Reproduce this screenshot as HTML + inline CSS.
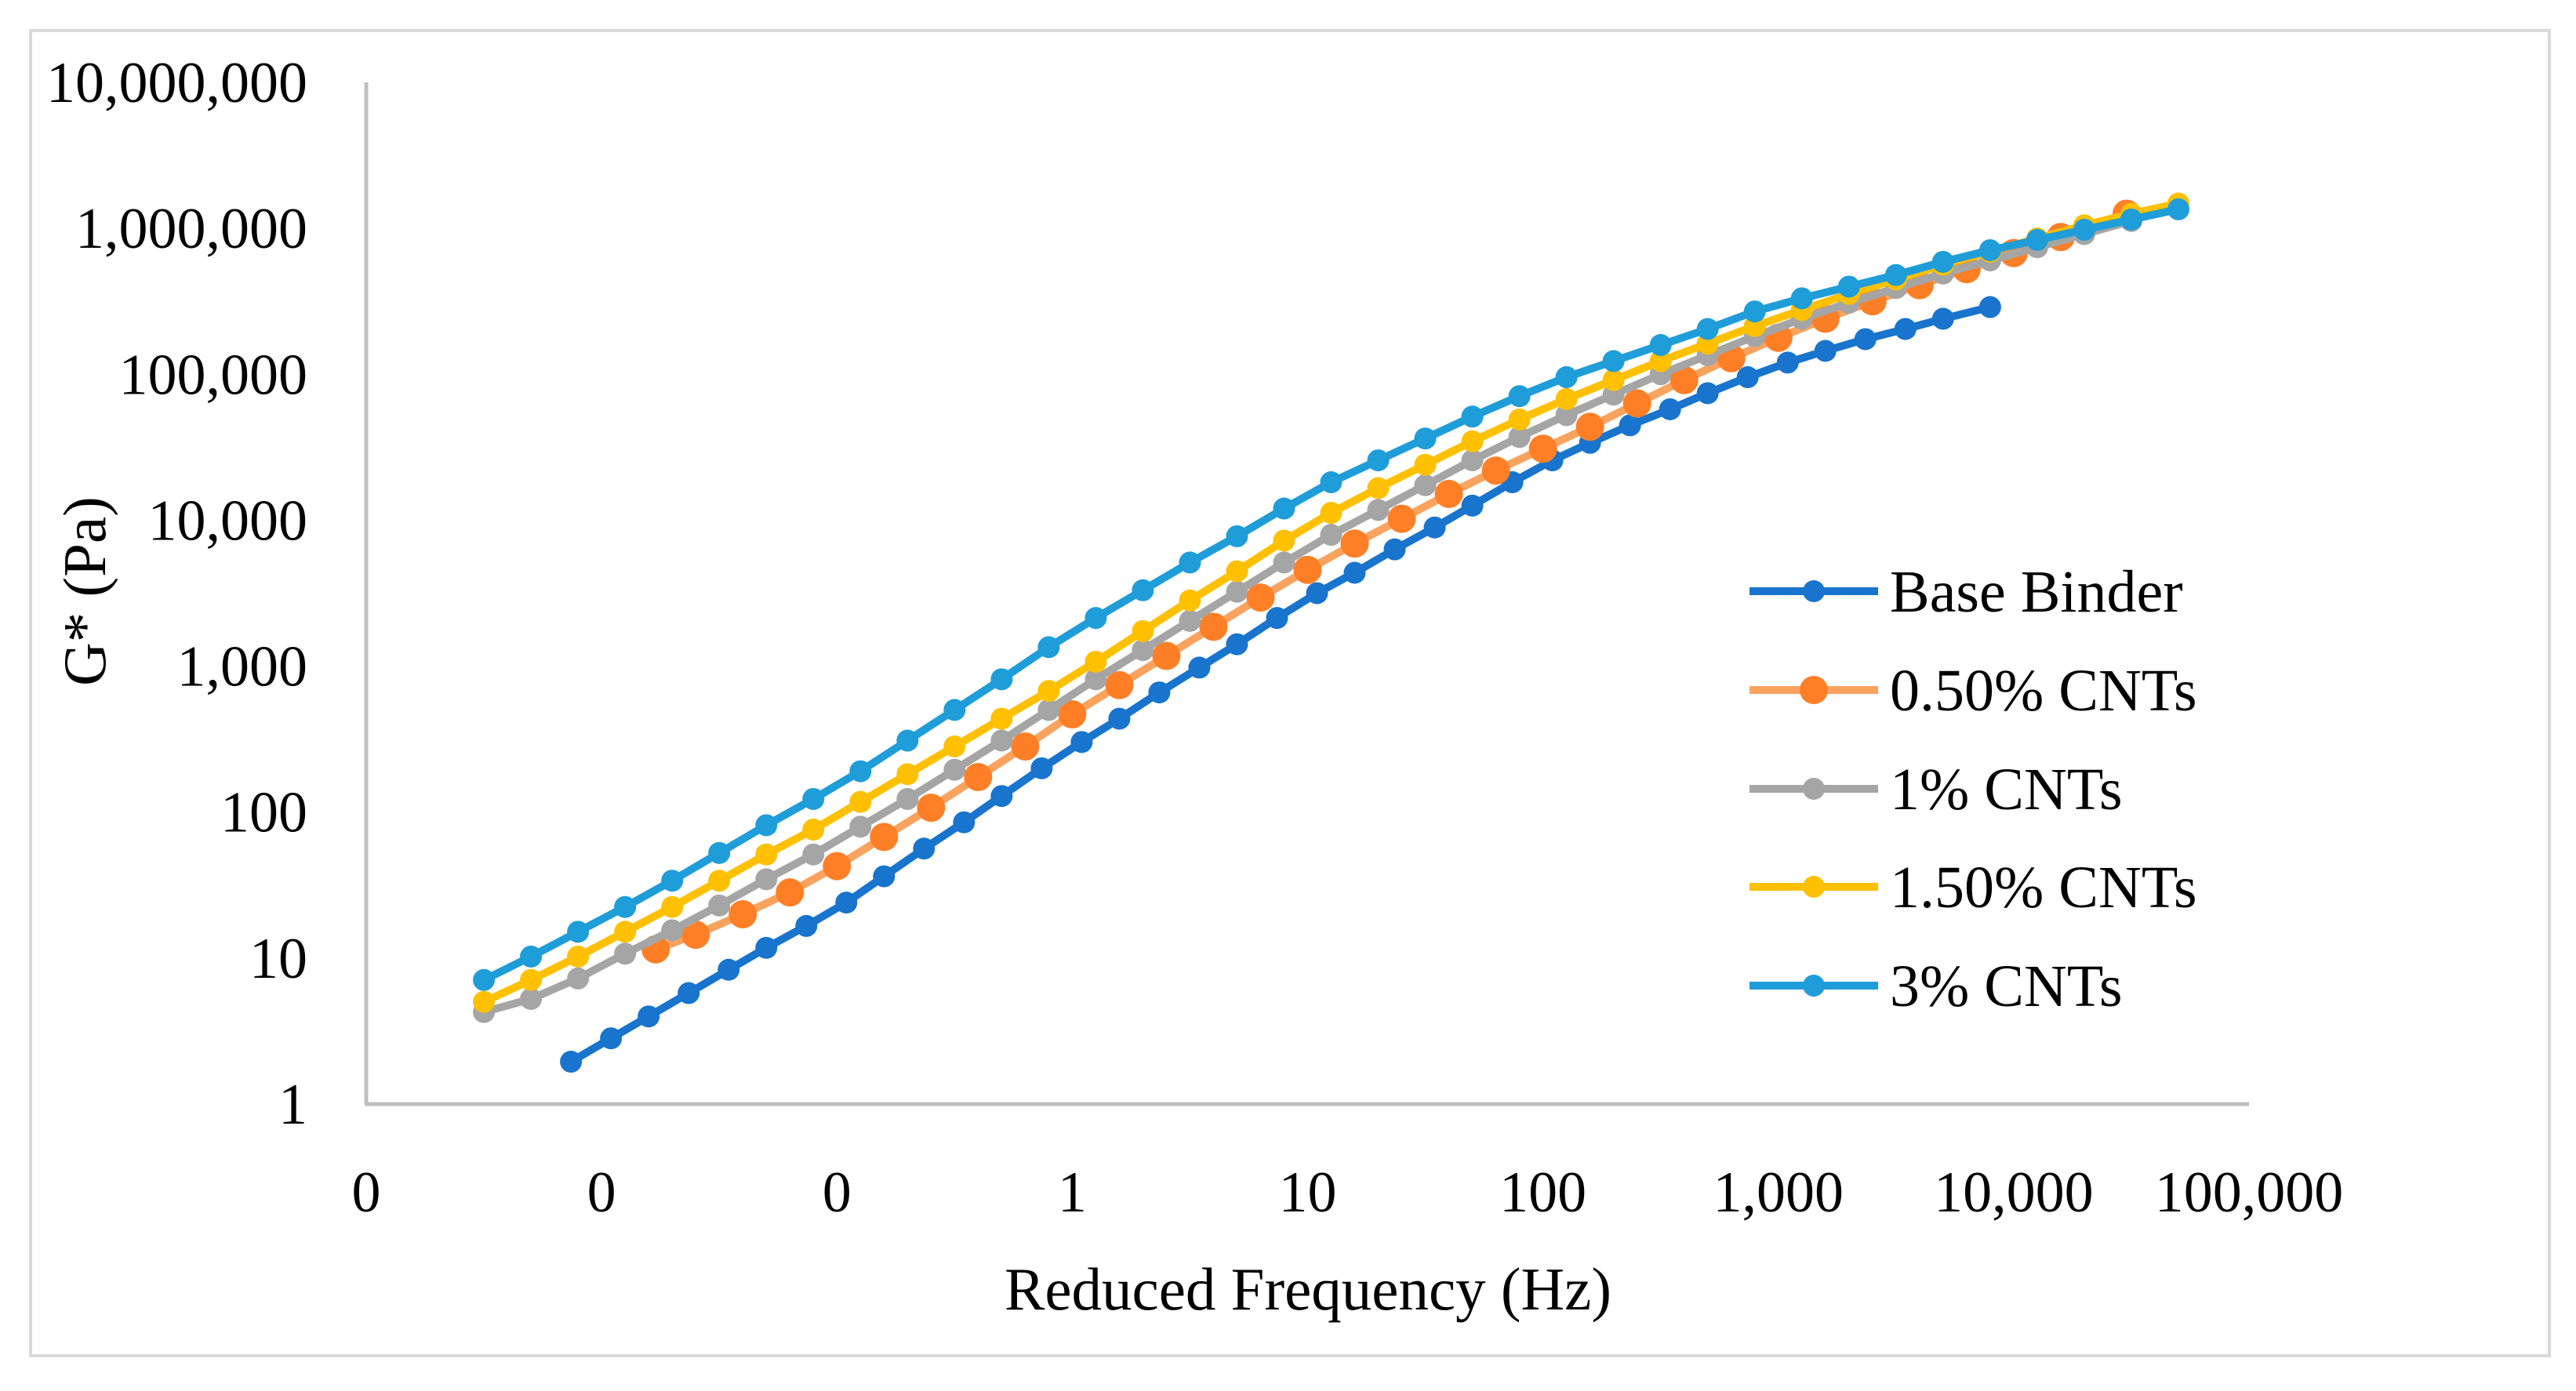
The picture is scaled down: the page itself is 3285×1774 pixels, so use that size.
<!DOCTYPE html>
<html><head><meta charset="utf-8"><style>
html,body{margin:0;padding:0;background:#fff;}
svg{display:block;}
text{font-family:"Liberation Serif",serif;fill:#000;}
</style></head><body>
<svg id="chart" width="3285" height="1774" viewBox="0 0 3285 1774" xmlns="http://www.w3.org/2000/svg">
<rect x="39" y="39" width="3212" height="1690" fill="#fff" stroke="#d9d9d9" stroke-width="4"/>
<g id="axes"></g>
<g id="series"></g>
<g id="legend"></g>
<text x="1668" y="1670" font-size="77" text-anchor="middle">Reduced Frequency (Hz)</text>
<text x="0" y="0" font-size="77" text-anchor="middle" transform="translate(134,754) rotate(-90)">G* (Pa)</text>
</svg>
<script>
// log10 of reduced frequency (Hz) and log10 of G* (Pa)
const xTickLabels = ["0","0","0","1","10","100","1,000","10,000","100,000"];
const xTickLogs = [-3,-2,-1,0,1,2,3,4,5];
const yTickLabels = ["1","10","100","1,000","10,000","100,000","1,000,000","10,000,000"];
const yTickLogs = [0,1,2,3,4,5,6,7];
const seriesNames = ["Base Binder","0.50% CNTs","1% CNTs","1.50% CNTs","3% CNTs"];

const baseLogF = [-2.13,-1.96,-1.80,-1.63,-1.46,-1.30,-1.13,-0.96,-0.80,-0.63,-0.46,-0.30,-0.13,0.04,0.20,0.37,0.54,0.70,0.87,1.04,1.20,1.37,1.54,1.70,1.87,2.04,2.20,2.37,2.54,2.70,2.87,3.04,3.20,3.37,3.54,3.70,3.90];
const baseLogG = [0.29,0.45,0.60,0.76,0.92,1.07,1.22,1.38,1.56,1.75,1.93,2.11,2.30,2.48,2.64,2.82,2.99,3.15,3.33,3.50,3.64,3.80,3.95,4.10,4.26,4.41,4.53,4.65,4.76,4.87,4.98,5.08,5.16,5.24,5.31,5.38,5.46];

const cnt05LogF = [-1.77,-1.6,-1.4,-1.2,-1.0,-0.8,-0.6,-0.4,-0.2,0.0,0.2,0.4,0.6,0.8,1.0,1.2,1.4,1.6,1.8,2.0,2.2,2.4,2.6,2.8,3.0,3.2,3.4,3.6,3.8,4.0,4.2,4.48];
const cnt05LogG = [1.06,1.16,1.30,1.45,1.63,1.83,2.03,2.24,2.45,2.67,2.87,3.07,3.27,3.47,3.66,3.84,4.01,4.18,4.34,4.49,4.64,4.80,4.96,5.11,5.25,5.38,5.50,5.61,5.72,5.83,5.94,6.10];

const cnt1LogF = [-2.5,-2.3,-2.1,-1.9,-1.7,-1.5,-1.3,-1.1,-0.9,-0.7,-0.5,-0.3,-0.1,0.1,0.3,0.5,0.7,0.9,1.1,1.3,1.5,1.7,1.9,2.1,2.3,2.5,2.7,2.9,3.1,3.3,3.5,3.7,3.9,4.1,4.3,4.5];
const cnt1LogG = [0.63,0.72,0.86,1.03,1.19,1.36,1.54,1.71,1.90,2.09,2.29,2.49,2.70,2.91,3.11,3.31,3.51,3.71,3.90,4.07,4.24,4.41,4.57,4.72,4.86,5.00,5.13,5.26,5.38,5.49,5.59,5.69,5.78,5.87,5.96,6.05];

const cnt15LogF = [-2.5,-2.3,-2.1,-1.9,-1.7,-1.5,-1.3,-1.1,-0.9,-0.7,-0.5,-0.3,-0.1,0.1,0.3,0.5,0.7,0.9,1.1,1.3,1.5,1.7,1.9,2.1,2.3,2.5,2.7,2.9,3.1,3.3,3.5,3.7,3.9,4.1,4.3,4.5,4.7];
const cnt15LogG = [0.70,0.85,1.01,1.18,1.35,1.53,1.71,1.88,2.07,2.26,2.45,2.64,2.83,3.03,3.24,3.45,3.65,3.86,4.05,4.22,4.38,4.54,4.69,4.83,4.96,5.09,5.21,5.33,5.44,5.55,5.65,5.75,5.84,5.93,6.02,6.10,6.17];

const cnt3LogF = [-2.5,-2.3,-2.1,-1.9,-1.7,-1.5,-1.3,-1.1,-0.9,-0.7,-0.5,-0.3,-0.1,0.1,0.3,0.5,0.7,0.9,1.1,1.3,1.5,1.7,1.9,2.1,2.3,2.5,2.7,2.9,3.1,3.3,3.5,3.7,3.9,4.1,4.3,4.5,4.7];
const cnt3LogG = [0.85,1.01,1.18,1.35,1.53,1.72,1.91,2.09,2.28,2.49,2.70,2.91,3.13,3.33,3.52,3.71,3.89,4.08,4.26,4.41,4.56,4.71,4.85,4.98,5.09,5.20,5.31,5.43,5.52,5.60,5.68,5.77,5.85,5.92,5.99,6.06,6.13];

const NS = "http://www.w3.org/2000/svg";
const X0 = 467, X1 = 2868, Y0 = 1408, YTOP = 105;
function xScale(v){ return X0 + (v + 3) * (X1 - X0) / 8; }
function yScale(v){ return Y0 - v * (Y0 - YTOP) / 7; }
function mk(tag, attrs, parent){
  const e = document.createElementNS(NS, tag);
  for (const k in attrs) e.setAttribute(k, attrs[k]);
  parent.appendChild(e);
  return e;
}
const axes = document.getElementById('axes');
const yAxis = mk('line', {x1:X0, y1:YTOP, x2:X0, y2:Y0, stroke:'#bfbfbf', 'stroke-width':5}, axes);


const xAxis = mk('line', {x1:X0-2, y1:Y0, x2:X1, y2:Y0, stroke:'#bfbfbf', 'stroke-width':5}, axes);


yTickLogs.forEach((v, i) => {
  const t = mk('text', {x:392, y:yScale(v)+25, 'font-size':74, 'text-anchor':'end'}, axes);
  t.textContent = yTickLabels[i];
  
  
});
xTickLogs.forEach((v, i) => {
  const t = mk('text', {x:xScale(v), y:1545, 'font-size':74, 'text-anchor':'middle'}, axes);
  t.textContent = xTickLabels[i];
  
  
});
const seriesDefs = [
  {name:'base-binder', fx:baseLogF, gy:baseLogG, line:'#1874cd', mark:'#1874cd', r:14},
  {name:'cnt-0-5', fx:cnt05LogF, gy:cnt05LogG, line:'#f9a35f', mark:'#ff7f27', r:18},
  {name:'cnt-1', fx:cnt1LogF, gy:cnt1LogG, line:'#a5a5a5', mark:'#a5a5a5', r:14},
  {name:'cnt-1-5', fx:cnt15LogF, gy:cnt15LogG, line:'#ffc000', mark:'#ffc000', r:14},
  {name:'cnt-3', fx:cnt3LogF, gy:cnt3LogG, line:'#1f9dd9', mark:'#1f9dd9', r:14}
];
const sg = document.getElementById('series');
seriesDefs.forEach(s => {
  const g = mk('g', {}, sg);
  
  
  const pts = s.fx.map((f, i) => xScale(f).toFixed(1) + ',' + yScale(s.gy[i]).toFixed(1)).join(' ');
  const pl = mk('polyline', {points:pts, fill:'none', stroke:s.line, 'stroke-width':10, 'stroke-linejoin':'round'}, g);
  
  
  s.fx.forEach((f, i) => {
    const c = mk('ellipse', {cx:xScale(f), cy:yScale(s.gy[i]), rx:s.r, ry:s.r, fill:s.mark}, g);
    
    
  });
});
const lg = document.getElementById('legend');
const legendY = [754, 880, 1006, 1131, 1257];
seriesDefs.forEach((s, i) => {
  const g = mk('g', {}, lg);
  
  
  const l = mk('line', {x1:2231, y1:legendY[i], x2:2395, y2:legendY[i], stroke:s.line, 'stroke-width':10}, g);
  
  
  const c = mk('ellipse', {cx:2313, cy:legendY[i], rx:s.r, ry:s.r, fill:s.mark}, g);
  
  
  const t = mk('text', {x:2410, y:legendY[i]+26, 'font-size':76}, g);
  t.textContent = seriesNames[i];
  
  
});
</script>
</body></html>
